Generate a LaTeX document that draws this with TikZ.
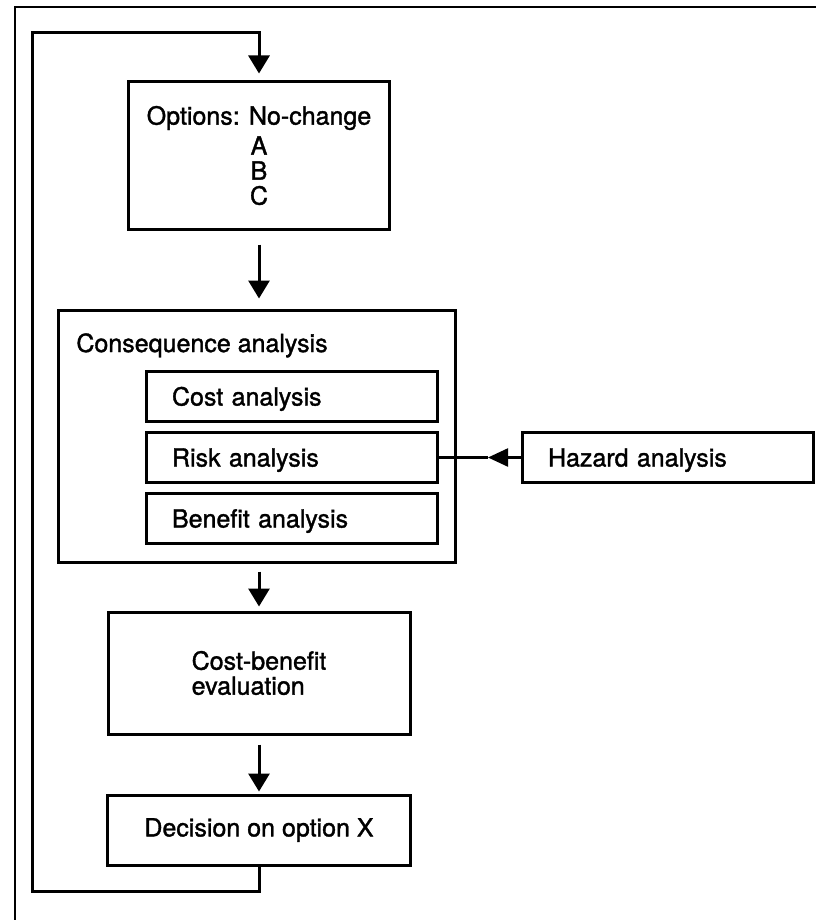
\documentclass[tikz,border=0pt]{standalone}
\usepackage{fontspec}
\setmainfont{TeX Gyre Heros}[RawFeature={embolden=1.4}]
\usetikzlibrary{arrows.meta}

\begin{document}
\begin{tikzpicture}[x=0.5pt,y=-0.5pt,font=\fontsize{12.5}{12.5}\selectfont,
  box/.style={draw,line width=1.5pt,inner sep=0pt},
  subbox/.style={box,minimum height=25pt,text width=119.5pt,inner xsep=13pt,
    text height=9pt,text depth=0pt,align=left},
  link/.style={line width=1.5pt},
  arr/.style={link,-{Triangle[length=9pt,width=10.5pt]}}]
  \useasboundingbox (0,0) rectangle (816,920);

  % page frame (cut off at right and bottom)
  \draw[line width=0.7pt] (15,920) -- (15,7) -- (816,7);

  % options
  \node[box,minimum width=130.5pt,minimum height=73.5pt,align=center] (opt) at (259,155.5)
    {Options: No-change\\[2.5pt] A\\ B\\ C};

  % consequence analysis with its three parts
  \node[box,minimum width=198.5pt,minimum height=126pt] (cons) at (256.5,436) {};
  \node[anchor=base west,inner sep=0pt] (conslbl) at (76,352) {Consequence analysis};
  \node[subbox] (cost) at (291.5,396.5) {Cost analysis};
  \node[subbox] (risk) at (291.5,457.5) {Risk analysis};
  \node[subbox] (bene) at (291.5,518.5) {Benefit analysis};
  \node[subbox] (haz) at (667.5,457.5) {Hazard analysis};

  % evaluation and decision
  \node[box,minimum width=151pt,minimum height=61pt,align=left] (cb) at (259,673)
    {Cost-benefit\\evaluation};
  \node[box,minimum width=151.5pt,minimum height=35pt] (dec) at (259,830)
    {Decision on option X};

  % flow
  \draw[arr,shorten <=7pt,shorten >=5pt] (opt.south) -- (opt.south |- cons.north);
  \draw[arr,shorten <=4pt,shorten >=2pt] (cons.south -| cb.north) -- (cb.north);
  \draw[arr,shorten <=4.5pt,shorten >=1pt] (cb.south) -- (dec.north);

  % feedback loop
  \draw[arr,shorten >=3.5pt] (dec.south) |- (32,891) |- (opt.north |- 0,33) -- (opt.north);

  % hazard input, arrowhead in mid-line
  \coordinate (haztip) at (488,457.5);
  \draw[arr,line width=1.2pt,-{Triangle[length=10pt,width=9pt]}] (haz.west) -- (haztip);
  \draw[line width=1.2pt] (haztip) -- (risk.east);
\end{tikzpicture}
\end{document}
